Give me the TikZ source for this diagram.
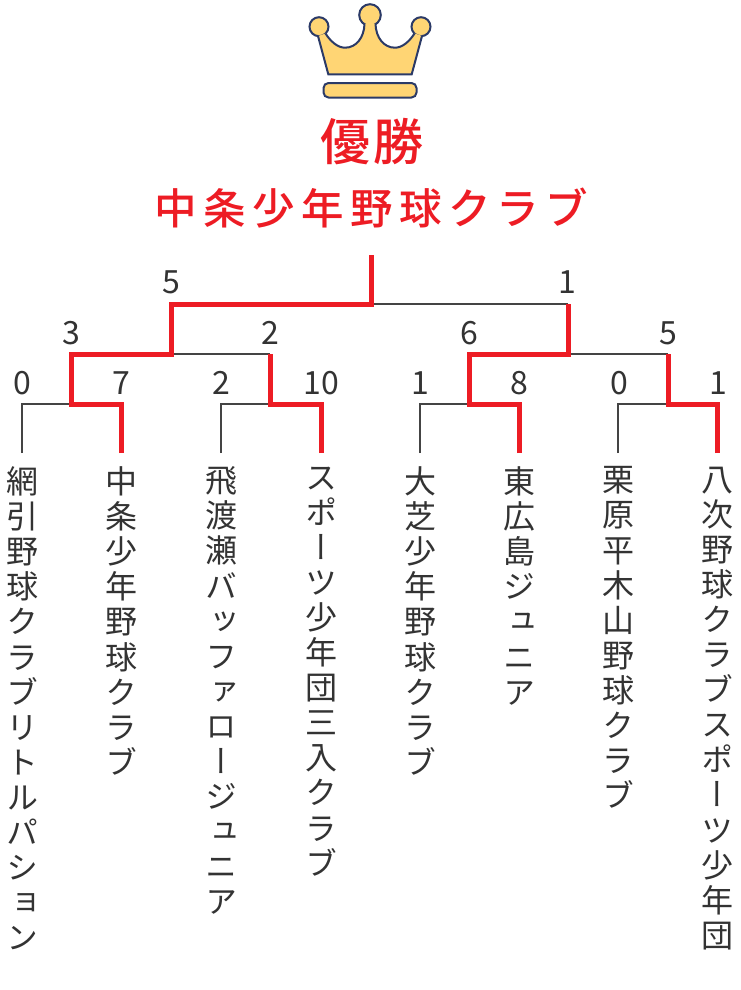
\documentclass[tikz,border=0pt]{standalone}
\usepackage{fontspec}
\setmainfont{Noto Sans CJK JP}
\newfontfamily\teamfont[Script=CJK,RawFeature={+vert}]{Noto Sans CJK JP}
\newfontfamily\champfont[LetterSpace=6]{Noto Sans CJK JP Medium}
\newfontfamily\titlefont[LetterSpace=15]{Noto Sans CJK JP Medium}
\definecolor{winred}{HTML}{ED1C24}
\definecolor{linegray}{HTML}{444444}
\definecolor{textgray}{HTML}{333333}
\definecolor{crownfill}{HTML}{FFD574}
\definecolor{crownline}{HTML}{2B3A67}
\tikzset{
    lost/.style={draw=linegray, line width=1.7pt},
    won/.style={draw=winred, line width=5pt, line cap=butt, miter limit=10},
    score/.style={anchor=base, inner sep=0pt, text=textgray, font=\fontsize{32}{33}\selectfont},
    team/.style={anchor=north, inner sep=0pt, align=center, text=textgray, font=\teamfont\fontsize{32}{35.1}\selectfont},
    crown/.style={draw=crownline, fill=crownfill, line width=2pt},
}
\begin{document}
\begin{tikzpicture}[x=1pt, y=-1pt]
\useasboundingbox (0,0) rectangle (740,990);
% crown
\foreach \x/\y/\r in {319/26.7/9.5, 370/15/10.8, 421/26.7/9.5}
{
    \draw[crown] (\x,\y) circle (\r pt);
}
\fill[crownfill] (318,36) -- (328.3,74.3) -- (411.7,74.3) -- (422,36) -- (414.5,33.5)
    .. controls (409,42) and (402,47.7) .. (395,47.7)
    .. controls (384,47.7) and (376,38) .. (375.5,24) -- (364.5,24)
    .. controls (364,38) and (356,47.7) .. (345,47.7)
    .. controls (338,47.7) and (331,42) .. (325.5,33.5) -- cycle;
\draw[crownline, line width=2pt] (318,36) -- (328.3,74.3) -- (411.7,74.3) -- (422,36);
\draw[crownline, line width=2pt] (325.5,33.5) .. controls (331,42) and (338,47.7) .. (345,47.7)
    .. controls (356,47.7) and (364,38) .. (364.5,24);
\draw[crownline, line width=2pt] (414.5,33.5) .. controls (409,42) and (402,47.7) .. (395,47.7)
    .. controls (384,47.7) and (376,38) .. (375.5,24);
\draw[crown, rounded corners=5pt] (323.5,83) rectangle (416.5,97.5);
% titles
\node[winred, inner sep=0pt, font=\champfont\fontsize{50}{52}\selectfont] (champ) at (372,142) {優勝};
\node[winred, inner sep=0pt, font=\titlefont\fontsize{42.5}{44}\selectfont] (winner) at (371.5,208) {中条少年野球クラブ};
% bracket points
\foreach \n/\x in {1/22, 2/121, 3/221, 4/321, 5/420, 6/519, 7/618, 8/717}
{
    \coordinate (l\n) at (\x,453);
}
\coordinate (a) at (71,404);
\coordinate (b) at (270,404);
\coordinate (c) at (469,404);
\coordinate (d) at (668,404);
\coordinate (e) at (171,354);
\coordinate (f) at (568,354);
\coordinate (top) at (371,304);
\coordinate (root) at (371,255);
% losers
\draw[lost] (l1) |- (a);
\draw[lost] (l3) |- (b);
\draw[lost] (l5) |- (c);
\draw[lost] (l7) |- (d);
\draw[lost] (e) -- (b |- e);
\draw[lost] (f) -- (d |- f);
\draw[lost] (top) -- (f |- top);
% winners
\draw[won] (l2) |- (a) |- (e) |- (top) -- (root);
\draw[won] (l4) |- (b) -- (b |- e);
\draw[won] (l6) |- (c) |- (f) -- (f |- top);
\draw[won] (l8) |- (d) -- (d |- f);
% scores
\foreach \n/\x/\y/\s in {1/22.5/394/0, 2/121.5/394/7, 3/221/394/2, 4/321/394/10, 5/420/394/1, 6/519/394/8, 7/619/394/0, 8/718/394/1, 9/71.5/344/3, 10/270/344/2, 11/469.5/344/6, 12/668.5/344/5, 13/171.5/293/5, 14/567.5/293/1}
{
    \node[score] (s\n) at (\x,\y) {\s};
}
% teams
\node[team] (t1) at (22,466.5) {網\\引\\野\\球\\ク\\ラ\\ブ\\リ\\ト\\ル\\パ\\シ\\ョ\\ン};
\node[team] (t2) at (121,466.5) {中\\条\\少\\年\\野\\球\\ク\\ラ\\ブ};
\node[team] (t3) at (221,466.5) {飛\\渡\\瀬\\バ\\ッ\\フ\\ァ\\ロ\\ー\\ジ\\ュ\\ニ\\ア};
\node[team] (t4) at (321,466.5) {ス\\ポ\\ー\\ツ\\少\\年\\団\\{\normalfont 三}\\入\\ク\\ラ\\ブ};
\node[team] (t5) at (420,466.5) {大\\芝\\少\\年\\野\\球\\ク\\ラ\\ブ};
\node[team] (t6) at (519,466.5) {東\\広\\島\\ジ\\ュ\\ニ\\ア};
\node[team] (t7) at (618,466.5) {栗\\原\\平\\木\\山\\野\\球\\ク\\ラ\\ブ};
\node[team] (t8) at (717,466.5) {八\\次\\野\\球\\ク\\ラ\\ブ\\ス\\ポ\\ー\\ツ\\少\\年\\団};
\end{tikzpicture}
\end{document}
